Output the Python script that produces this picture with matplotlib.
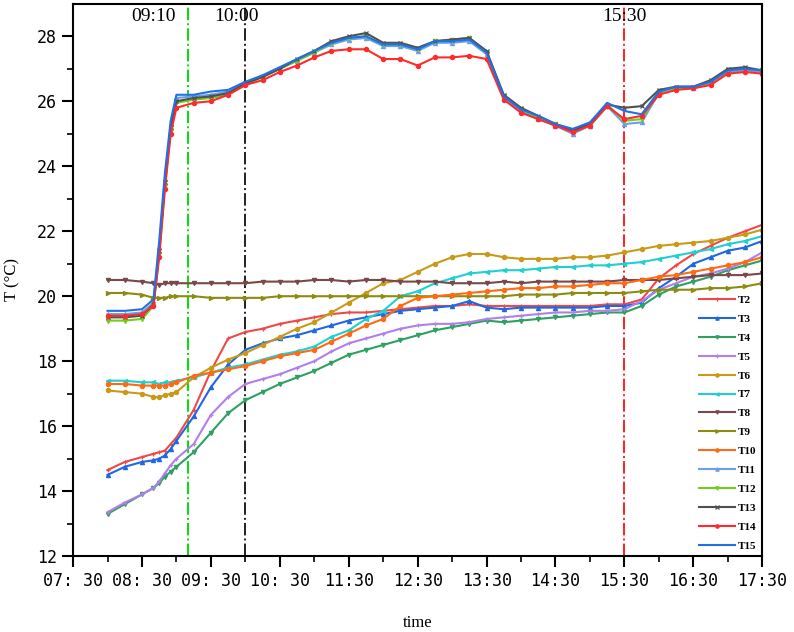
import matplotlib
matplotlib.use("Agg")
import matplotlib.pyplot as plt
import numpy as np

# sample times (hh:mm)
times = ["08:00", "08:15", "08:30", "08:40", "08:45", "08:50", "08:55", "09:00",
         "09:15", "09:30", "09:45", "10:00", "10:15", "10:30", "10:45", "11:00",
         "11:15", "11:30", "11:45", "12:00", "12:15", "12:30", "12:45", "13:00",
         "13:15", "13:30", "13:45", "14:00", "14:15", "14:30", "14:45", "15:00",
         "15:15", "15:30", "15:45", "16:00", "16:15", "16:30", "16:45", "17:00",
         "17:15", "17:30"]

T2 = [14.65, 14.9, 15.05, 15.15, 15.2, 15.25, 15.45, 15.65, 16.5, 17.7, 18.7, 18.9,
      19.0, 19.15, 19.25, 19.35, 19.45, 19.5, 19.5, 19.55, 19.6, 19.65, 19.7, 19.7,
      19.75, 19.7, 19.7, 19.7, 19.7, 19.7, 19.7, 19.7, 19.75, 19.75, 19.9, 20.55,
      20.95, 21.3, 21.55, 21.8, 22.0, 22.2]
T3 = [14.5, 14.75, 14.9, 14.95, 15.0, 15.1, 15.3, 15.55, 16.3, 17.2, 17.9, 18.35,
      18.55, 18.7, 18.8, 18.95, 19.1, 19.25, 19.35, 19.45, 19.55, 19.6, 19.65, 19.7,
      19.85, 19.65, 19.6, 19.65, 19.65, 19.65, 19.65, 19.65, 19.7, 19.7, 19.8, 20.25,
      20.6, 21.0, 21.2, 21.4, 21.5, 21.7]
T4 = [13.3, 13.6, 13.9, 14.1, 14.25, 14.45, 14.6, 14.75, 15.2, 15.8, 16.4, 16.8,
      17.05, 17.3, 17.5, 17.7, 17.95, 18.2, 18.35, 18.5, 18.65, 18.8, 18.95, 19.05,
      19.15, 19.25, 19.2, 19.25, 19.3, 19.35, 19.4, 19.45, 19.5, 19.5, 19.7, 20.05,
      20.3, 20.45, 20.6, 20.8, 20.95, 21.1]
T5 = [13.35, 13.65, 13.9, 14.1, 14.3, 14.55, 14.8, 15.0, 15.45, 16.35, 16.9, 17.3,
      17.45, 17.6, 17.8, 18.0, 18.3, 18.55, 18.7, 18.85, 19.0, 19.1, 19.15, 19.15,
      19.2, 19.3, 19.35, 19.4, 19.45, 19.5, 19.5, 19.55, 19.55, 19.6, 19.85, 20.2,
      20.4, 20.6, 20.7, 20.85, 21.05, 21.35]
T6 = [17.1, 17.05, 17.0, 16.9, 16.9, 16.95, 17.0, 17.05, 17.5, 17.8, 18.05, 18.25,
      18.5, 18.75, 19.0, 19.2, 19.5, 19.8, 20.1, 20.4, 20.5, 20.75, 21.0, 21.2,
      21.3, 21.3, 21.2, 21.15, 21.15, 21.15, 21.2, 21.2, 21.25, 21.35, 21.45, 21.55,
      21.6, 21.65, 21.7, 21.8, 21.9, 22.05]
T7 = [17.4, 17.4, 17.35, 17.35, 17.3, 17.35, 17.35, 17.4, 17.5, 17.65, 17.8, 17.9,
      18.05, 18.2, 18.3, 18.45, 18.75, 18.95, 19.3, 19.55, 20.0, 20.15, 20.4, 20.55,
      20.7, 20.75, 20.8, 20.8, 20.85, 20.9, 20.9, 20.95, 20.95, 21.0, 21.05, 21.15,
      21.25, 21.35, 21.45, 21.6, 21.7, 21.85]
T8 = [20.5, 20.5, 20.45, 20.4, 20.35, 20.4, 20.4, 20.4, 20.4, 20.4, 20.4, 20.4,
      20.45, 20.45, 20.45, 20.5, 20.5, 20.45, 20.5, 20.5, 20.45, 20.45, 20.45, 20.4,
      20.4, 20.4, 20.45, 20.4, 20.45, 20.45, 20.45, 20.45, 20.45, 20.5, 20.5, 20.5,
      20.55, 20.6, 20.65, 20.65, 20.65, 20.7]
T9 = [20.1, 20.1, 20.05, 19.95, 19.95, 19.95, 20.0, 20.0, 20.0, 19.95, 19.95, 19.95,
      19.95, 20.0, 20.0, 20.0, 20.0, 20.0, 20.0, 20.0, 20.0, 20.0, 20.0, 20.0,
      20.0, 20.0, 20.0, 20.05, 20.05, 20.05, 20.1, 20.1, 20.1, 20.1, 20.15, 20.2,
      20.2, 20.2, 20.25, 20.25, 20.3, 20.4]
T10 = [17.3, 17.3, 17.25, 17.25, 17.25, 17.25, 17.3, 17.35, 17.55, 17.65, 17.75, 17.85,
       18.0, 18.15, 18.25, 18.35, 18.6, 18.85, 19.1, 19.3, 19.7, 19.95, 20.0, 20.05,
       20.1, 20.15, 20.2, 20.25, 20.25, 20.3, 20.3, 20.35, 20.4, 20.4, 20.5, 20.6,
       20.65, 20.75, 20.85, 20.95, 21.05, 21.2]
T11 = [19.45, 19.45, 19.5, 19.8, 21.5, 23.6, 25.3, 26.1, 26.15, 26.2, 26.3, 26.55,
       26.75, 27.0, 27.25, 27.5, 27.75, 27.9, 27.95, 27.7, 27.7, 27.55, 27.8, 27.8,
       27.85, 27.45, 26.1, 25.7, 25.45, 25.25, 25.0, 25.25, 25.85, 25.3, 25.35, 26.25,
       26.4, 26.4, 26.55, 26.9, 26.95, 26.9]
T12 = [19.25, 19.25, 19.3, 19.7, 21.3, 23.4, 25.1, 25.95, 26.05, 26.1, 26.2, 26.5,
       26.75, 27.0, 27.25, 27.5, 27.8, 27.95, 28.0, 27.75, 27.75, 27.6, 27.85, 27.9,
       27.95, 27.5, 26.15, 25.75, 25.5, 25.3, 25.1, 25.3, 25.9, 25.4, 25.45, 26.3,
       26.4, 26.4, 26.6, 26.95, 27.0, 26.95]
T13 = [19.35, 19.35, 19.4, 19.75, 21.4, 23.5, 25.2, 26.0, 26.1, 26.15, 26.25, 26.55,
       26.75, 27.0, 27.3, 27.55, 27.85, 28.0, 28.1, 27.8, 27.8, 27.65, 27.85, 27.9,
       27.95, 27.55, 26.2, 25.8, 25.55, 25.3, 25.1, 25.3, 25.9, 25.8, 25.85, 26.35,
       26.45, 26.45, 26.65, 27.0, 27.05, 26.95]
T14 = [19.4, 19.4, 19.45, 19.7, 21.2, 23.3, 25.0, 25.8, 25.95, 26.0, 26.2, 26.5,
       26.65, 26.9, 27.1, 27.35, 27.55, 27.6, 27.6, 27.3, 27.3, 27.1, 27.35, 27.35,
       27.4, 27.3, 26.05, 25.65, 25.45, 25.25, 25.05, 25.25, 25.85, 25.45, 25.55, 26.2,
       26.35, 26.4, 26.5, 26.85, 26.9, 26.85]
T15 = [19.55, 19.55, 19.6, 19.9, 21.7, 23.8, 25.4, 26.2, 26.2, 26.3, 26.35, 26.6,
       26.8, 27.05, 27.3, 27.55, 27.8, 27.95, 28.0, 27.75, 27.75, 27.6, 27.85, 27.85,
       27.9, 27.5, 26.15, 25.75, 25.55, 25.3, 25.15, 25.35, 25.95, 25.7, 25.6, 26.3,
       26.45, 26.45, 26.6, 26.95, 27.0, 26.95]

names = ["T2", "T3", "T4", "T5", "T6", "T7", "T8", "T9", "T10",
         "T11", "T12", "T13", "T14", "T15"]
series = [T2, T3, T4, T5, T6, T7, T8, T9, T10, T11, T12, T13, T14, T15]
colors = ["#f04848", "#2068e0", "#2ea060", "#b080e8", "#c89a18", "#20d0d0", "#7a4848",
          "#8c8c10", "#ff6a14", "#6aa0e8", "#70cc20", "#505050", "#ff2a2a", "#2070e8"]
markers = ["+", "^", "v", "+", "o", "<", "v", ">", "o", "^", "v", "x", "o", ""]

events = ["09:10", "10:00", "15:30"]
event_colors = ["#00e000", "#202020", "#ff2020"]

xtick_labels = ["07: 30", "08: 30", "09: 30", "10: 30", "11:30", "12:30",
                "13:30", "14:30", "15:30", "16:30", "17:30"]


def to_hours(s):
    h, m = s.split(":")
    return int(h) + int(m) / 60.0


t = np.array([to_hours(s) for s in times])

fig = plt.figure(figsize=(7.94, 6.32), dpi=100)
ax = fig.add_axes([0.092, 0.12, 0.868, 0.874])

for name, vals, c, mk in zip(names, series, colors, markers):
    ax.plot(t, vals, color=c, lw=1.5, marker=mk if mk else None, ms=3,
            mew=0.9, label=name)

for ev, c in zip(events, event_colors):
    ax.axvline(to_hours(ev), color=c, ls="-.", lw=1.4, zorder=1)

ax.text(to_hours("09:10") - 0.5, 28.6, "09:10", ha="center", va="center",
        fontsize=14, family="Liberation Serif")
ax.text(to_hours("10:00") - 0.13, 28.6, "10:00", ha="center", va="center",
        fontsize=14, family="Liberation Serif")
ax.text(to_hours("15:30"), 28.6, "15:30", ha="center", va="center",
        fontsize=14, family="Liberation Serif")

ax.set_xlim(7.5, 17.5)
ax.set_ylim(12, 29)
ax.set_xticks(np.arange(7.5, 17.6, 1.0))
ax.set_xticks(np.arange(8.0, 17.5, 1.0), minor=True)
ax.set_xticklabels(xtick_labels, family="DejaVu Sans Mono", fontsize=12)
ax.set_yticks(np.arange(12, 29, 2))
ax.set_yticks(np.arange(13, 29, 2), minor=True)
ax.set_yticklabels([str(v) for v in range(12, 29, 2)], family="DejaVu Sans Mono",
                   fontsize=12)
ax.tick_params(which="major", direction="out", length=8, width=1.5)
ax.tick_params(which="minor", direction="out", length=4, width=1.2)
for s in ax.spines.values():
    s.set_linewidth(1.5)

ax.set_xlabel("time", family="Liberation Serif", fontsize=12, labelpad=18)
ax.set_ylabel("T (°C)", family="Liberation Serif", fontsize=12, labelpad=12)

ax.legend(loc="lower right", bbox_to_anchor=(1.0, 0.0), frameon=False,
          prop={"family": "Liberation Serif", "size": 8, "weight": "bold"},
          handlelength=3.2, handletextpad=0.3, labelspacing=0.82,
          borderaxespad=0.1, markerscale=0.8)

fig.savefig("out.png", dpi=100)
